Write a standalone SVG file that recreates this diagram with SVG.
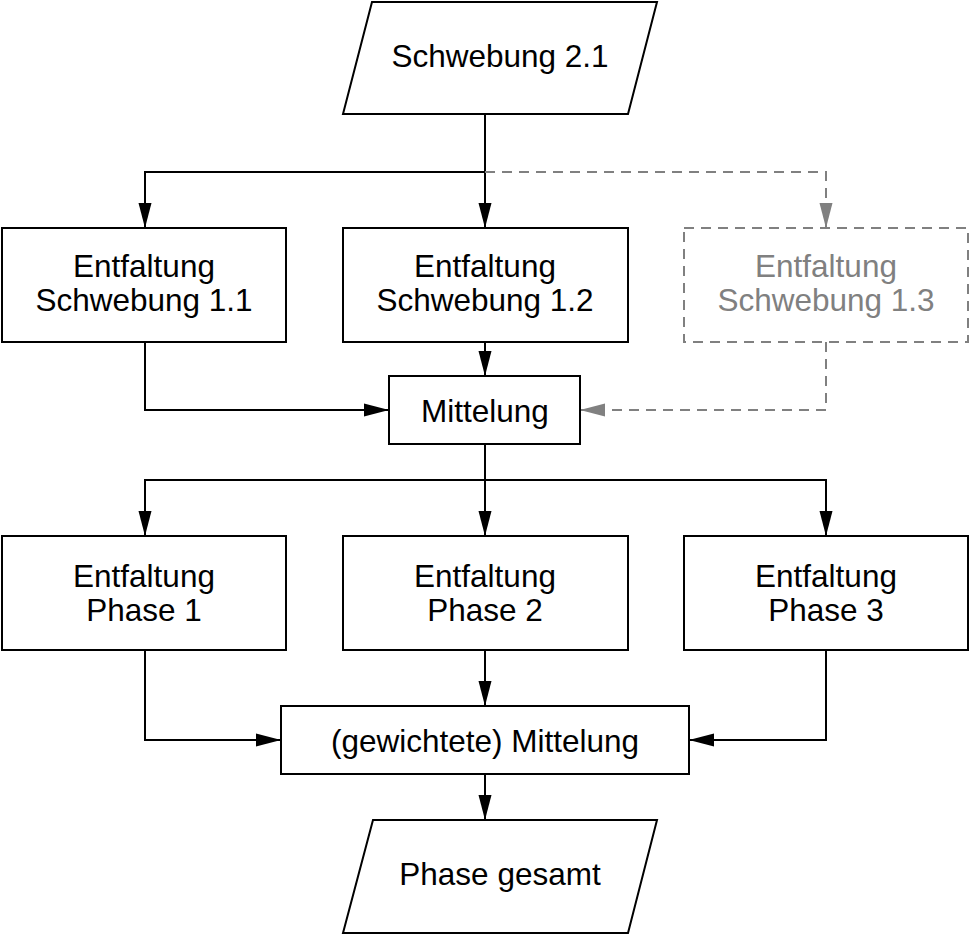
<svg xmlns="http://www.w3.org/2000/svg" width="970" height="935" viewBox="0 0 970 935">
<defs>
<marker id="ah" markerUnits="userSpaceOnUse" markerWidth="26" markerHeight="14" refX="25" refY="7" orient="auto">
<path d="M0,0.5 L25,7 L0,13.5 Z" fill="#000"/>
</marker>
<marker id="ahg" markerUnits="userSpaceOnUse" markerWidth="26" markerHeight="14" refX="25" refY="7" orient="auto">
<path d="M0,0.5 L25,7 L0,13.5 Z" fill="#808080"/>
</marker>
</defs>
<style>
.box{fill:#fff;stroke:#000;stroke-width:2}
.dbox{fill:#fff;stroke:#808080;stroke-width:2;stroke-dasharray:10,7}
.t{font-family:"Liberation Sans",Arial,sans-serif;font-size:31.5px;fill:#000;text-anchor:middle}
.tg{fill:#808080}
.c{fill:none;stroke:#000;stroke-width:2}
.cg{fill:none;stroke:#808080;stroke-width:2;stroke-dasharray:10,7}
</style>
<g id="connectors">
<path class="c" d="M485,114 V172 H145 V228" marker-end="url(#ah)"/>
<path class="c" d="M485,172 V228" marker-end="url(#ah)"/>
<path class="cg" d="M485,172 H826 V228" marker-end="url(#ahg)"/>
<path class="c" d="M145,342 V410 H389" marker-end="url(#ah)"/>
<path class="c" d="M485,342 V376" marker-end="url(#ah)"/>
<path class="cg" d="M826,342 V410 H580" marker-end="url(#ahg)"/>
<path class="c" d="M485,444 V480 H145 V536" marker-end="url(#ah)"/>
<path class="c" d="M485,480 V536" marker-end="url(#ah)"/>
<path class="c" d="M485,480 H826 V536" marker-end="url(#ah)"/>
<path class="c" d="M145,650 V740 H281" marker-end="url(#ah)"/>
<path class="c" d="M485,650 V706" marker-end="url(#ah)"/>
<path class="c" d="M826,650 V740 H689" marker-end="url(#ah)"/>
<path class="c" d="M485,774 V820" marker-end="url(#ah)"/>
</g>
<g id="n_schwebung21">
<polygon class="box" points="372,2 657,2 628,114 343,114"/>
<text class="t" x="500" y="67">Schwebung 2.1</text>
</g>
<g id="n_ent11">
<rect class="box" x="2" y="228" width="284" height="114"/>
<text class="t" x="144" y="277">Entfaltung</text>
<text class="t" x="144" y="311">Schwebung 1.1</text>
</g>
<g id="n_ent12">
<rect class="box" x="343" y="228" width="285" height="114"/>
<text class="t" x="485" y="277">Entfaltung</text>
<text class="t" x="485" y="311">Schwebung 1.2</text>
</g>
<g id="n_ent13">
<rect class="dbox" x="684" y="228" width="284" height="114"/>
<text class="t tg" x="826" y="277">Entfaltung</text>
<text class="t tg" x="826" y="311">Schwebung 1.3</text>
</g>
<g id="n_mittelung">
<rect class="box" x="389" y="376" width="191" height="68"/>
<text class="t" x="485" y="422">Mittelung</text>
</g>
<g id="n_phase1">
<rect class="box" x="2" y="536" width="284" height="114"/>
<text class="t" x="144" y="587">Entfaltung</text>
<text class="t" x="144" y="621">Phase 1</text>
</g>
<g id="n_phase2">
<rect class="box" x="343" y="536" width="285" height="114"/>
<text class="t" x="485" y="587">Entfaltung</text>
<text class="t" x="485" y="621">Phase 2</text>
</g>
<g id="n_phase3">
<rect class="box" x="684" y="536" width="284" height="114"/>
<text class="t" x="826" y="587">Entfaltung</text>
<text class="t" x="826" y="621">Phase 3</text>
</g>
<g id="n_gewmittelung">
<rect class="box" x="281" y="706" width="408" height="68"/>
<text class="t" x="485" y="752">(gewichtete) Mittelung</text>
</g>
<g id="n_phasegesamt">
<polygon class="box" points="373,820 657,820 628,933 343,933"/>
<text class="t" x="500" y="885">Phase gesamt</text>
</g>
</svg>
